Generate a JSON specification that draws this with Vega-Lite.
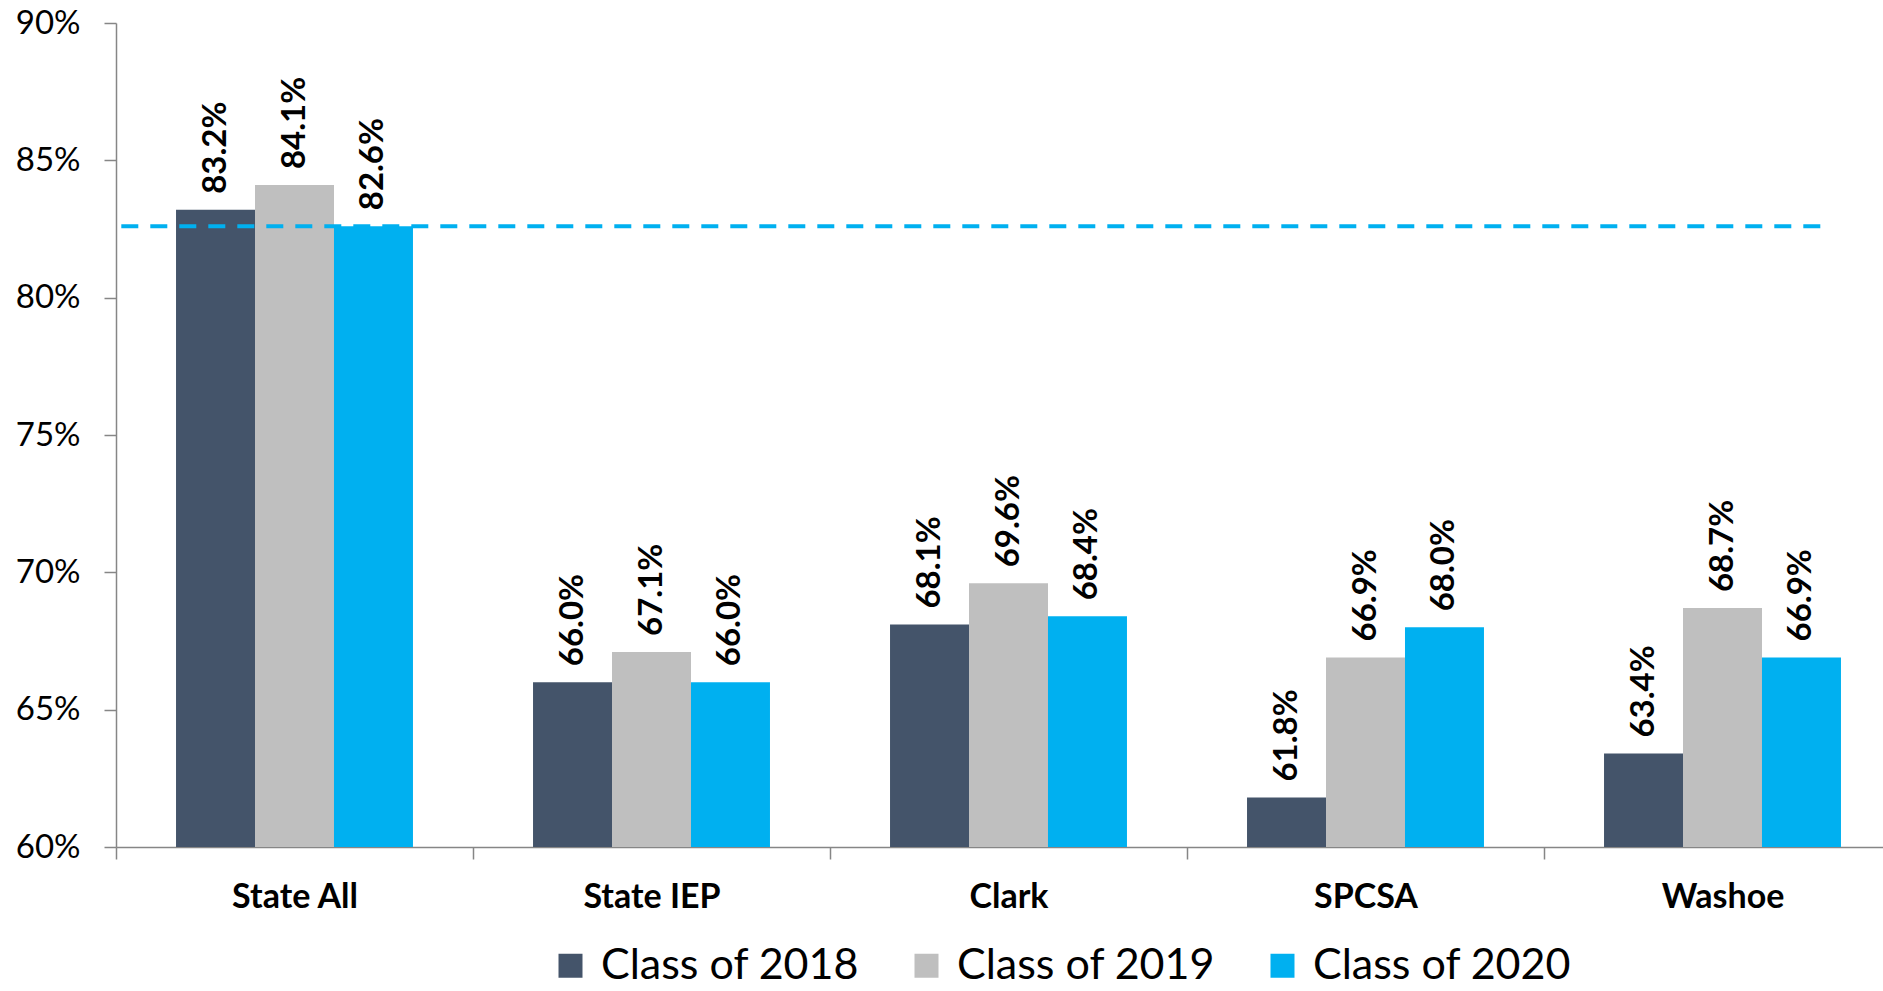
{
  "$schema": "https://vega.github.io/schema/vega-lite/v6.json",
  "width": 1767,
  "height": 824,
  "autosize": {"type": "none"},
  "padding": {"left": 116, "top": 23, "right": 0, "bottom": 144},
  "background": "white",
  "config": {
    "view": {"stroke": null},
    "font": "Lato",
    "axisY": {
      "domainColor": "#868686", "tickColor": "#868686", "domainWidth": 1.5, "tickWidth": 1.5,
      "tickSize": 12, "labelFontSize": 33, "labelFont": "Lato", "labelColor": "#000000",
      "labelPadding": 24, "grid": false, "title": null
    },
    "axisX": {
      "domainColor": "#868686", "tickColor": "#868686", "domainWidth": 1.5, "tickWidth": 1.5,
      "tickSize": 12, "labelFontSize": 34, "labelFont": "Lato", "labelFontWeight": "bold",
      "labelColor": "#000000", "labelPadding": 21, "grid": false, "title": null, "labelAngle": 0,
      "tickBand": "extent"
    }
  },
  "datasets": {
    "rates": [
      {"group": "State All", "cls": "Class of 2018", "v": 0.832},
      {"group": "State All", "cls": "Class of 2019", "v": 0.841},
      {"group": "State All", "cls": "Class of 2020", "v": 0.826},
      {"group": "State IEP", "cls": "Class of 2018", "v": 0.660},
      {"group": "State IEP", "cls": "Class of 2019", "v": 0.671},
      {"group": "State IEP", "cls": "Class of 2020", "v": 0.660},
      {"group": "Clark", "cls": "Class of 2018", "v": 0.681},
      {"group": "Clark", "cls": "Class of 2019", "v": 0.696},
      {"group": "Clark", "cls": "Class of 2020", "v": 0.684},
      {"group": "SPCSA", "cls": "Class of 2018", "v": 0.618},
      {"group": "SPCSA", "cls": "Class of 2019", "v": 0.669},
      {"group": "SPCSA", "cls": "Class of 2020", "v": 0.680},
      {"group": "Washoe", "cls": "Class of 2018", "v": 0.634},
      {"group": "Washoe", "cls": "Class of 2019", "v": 0.687},
      {"group": "Washoe", "cls": "Class of 2020", "v": 0.669}
    ],
    "avg": [{"avg": 0.826}]
  },
  "resolve": {"scale": {"x": "independent"}, "axis": {"x": "independent"}},
  "layer": [
    {
      "layer": [
        {
          "data": {"name": "rates"},
          "mark": {"type": "bar"},
          "encoding": {
            "x": {"field": "group", "type": "nominal", "sort": ["State All", "State IEP", "Clark", "SPCSA", "Washoe"],
                  "scale": {"range": [0, 1785], "paddingInner": 0, "paddingOuter": 0}},
            "xOffset": {"field": "cls", "type": "nominal", "sort": ["Class of 2018", "Class of 2019", "Class of 2020"],
                        "scale": {"paddingInner": 0, "paddingOuter": 0.76}},
            "y": {"field": "v", "type": "quantitative",
                  "scale": {"domain": [0.6, 0.9], "zero": false, "nice": false},
                  "axis": {"values": [0.6, 0.65, 0.7, 0.75, 0.8, 0.85, 0.9], "format": ".0%"}},
            "y2": {"datum": 0.6},
            "color": {"field": "cls", "type": "nominal",
                      "scale": {"domain": ["Class of 2018", "Class of 2019", "Class of 2020"], "range": ["#44546A", "#BFBFBF", "#00B0F0"]},
                      "legend": {"orient": "none", "legendX": 433, "legendY": 921, "direction": "horizontal", "title": null,
                                 "symbolType": "square", "symbolSize": 576, "symbolStrokeWidth": 0, "labelFontSize": 43,
                                 "labelFont": "Lato", "labelColor": "#000000", "labelOffset": 9, "columnPadding": 45,
                                 "padding": 0, "labelLimit": 400}}
          }
        },
        {
          "data": {"name": "rates"},
          "mark": {"type": "text", "angle": 270, "align": "left", "baseline": "middle", "dx": 16,
                   "font": "Lato", "fontWeight": "bold", "fontSize": 33, "color": "#000000"},
          "encoding": {
            "x": {"field": "group", "type": "nominal", "sort": ["State All", "State IEP", "Clark", "SPCSA", "Washoe"]},
            "xOffset": {"field": "cls", "type": "nominal", "sort": ["Class of 2018", "Class of 2019", "Class of 2020"]},
            "y": {"field": "v", "type": "quantitative"},
            "text": {"field": "v", "type": "quantitative", "format": ".1%"}
          }
        }
      ]
    },
    {
      "data": {"name": "avg"},
      "mark": {"type": "rule", "color": "#00B0F0", "strokeWidth": 4, "strokeDash": [17, 12]},
      "encoding": {
        "y": {"field": "avg", "type": "quantitative"},
        "x": {"datum": 0.003, "type": "quantitative", "scale": {"domain": [0, 1], "nice": false, "zero": false}, "axis": null},
        "x2": {"datum": 0.9666}
      }
    }
  ]
}
